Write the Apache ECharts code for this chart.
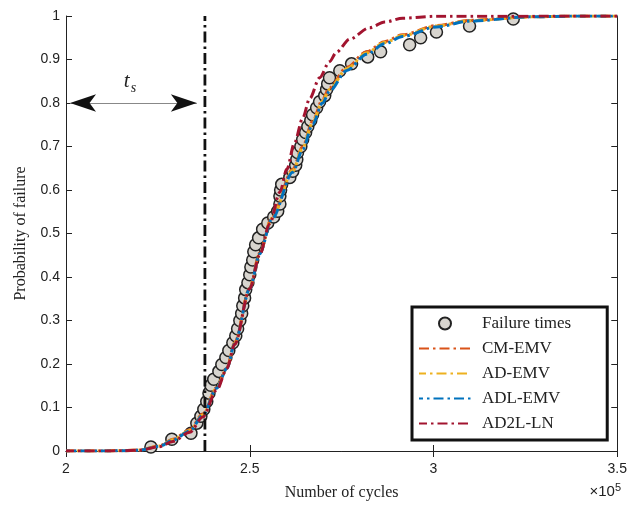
<!DOCTYPE html>
<html>
<head>
<meta charset="utf-8">
<script src="https://cdn.jsdelivr.net/npm/echarts@6/dist/echarts.min.js"></script>
<style>
  html, body { margin: 0; padding: 0; background: #fff; }
  #chart { width: 630px; height: 506px; }
</style>
</head>
<body>
<div id="chart"></div>
<script>
// failure times (cycles) and their empirical probabilities
var failureTimes = [223100, 228800, 234000, 235600, 236700, 237500, 238300, 238900, 239400, 240200,
  241600, 242400, 243500, 244300, 245400, 246200, 246700, 247300, 247800, 248100,
  248600, 248900, 249500, 250000, 250300, 250800, 251100, 251600, 252400, 253500,
  254900, 256500, 257600, 258200, 258200, 258400, 258700, 260900, 261700, 262500,
  262800, 263000, 263900, 264400, 265200, 265800, 266600, 267100, 268200, 269000,
  270400, 270900, 271200, 271700, 274500, 277700, 282100, 285600, 293500, 296500,
  300800, 309800, 321700];
var failureProb = [0.009, 0.027, 0.041, 0.064, 0.080, 0.096, 0.114, 0.133, 0.151, 0.165,
  0.183, 0.199, 0.215, 0.231, 0.249, 0.265, 0.281, 0.300, 0.316, 0.334,
  0.352, 0.371, 0.387, 0.405, 0.423, 0.439, 0.458, 0.474, 0.490, 0.510,
  0.524, 0.538, 0.551, 0.568, 0.586, 0.600, 0.613, 0.629, 0.643, 0.657,
  0.670, 0.686, 0.700, 0.716, 0.732, 0.746, 0.760, 0.773, 0.789, 0.803,
  0.817, 0.831, 0.844, 0.858, 0.874, 0.890, 0.906, 0.918, 0.934, 0.950,
  0.963, 0.977, 0.993];

// fitted CDF curves
var curveX = [200000, 209200, 215000, 220100, 225500, 229100, 233700, 237200, 241000, 243800,
  245900, 250000, 252700, 256000, 261700, 264400, 267100, 269800, 271700, 276400,
  281800, 286700, 291600, 300800, 309800, 326100, 339700, 350000];
var cmEmv = [0, 0, 0.0006, 0.0025, 0.012, 0.027, 0.049, 0.085, 0.146, 0.192,
  0.249, 0.375, 0.455, 0.537, 0.647, 0.700, 0.758, 0.808, 0.835, 0.882,
  0.918, 0.941, 0.957, 0.978, 0.990, 0.998, 1, 1];
var adEmv = [0, 0, 0.0005, 0.0022, 0.0115, 0.026, 0.047, 0.083, 0.145, 0.191,
  0.248, 0.374, 0.454, 0.535, 0.644, 0.697, 0.755, 0.804, 0.831, 0.879,
  0.915, 0.939, 0.955, 0.977, 0.989, 0.998, 1, 1];
var adlEmv = [0, 0, 0.0005, 0.002, 0.011, 0.025, 0.046, 0.082, 0.144, 0.19,
  0.247, 0.373, 0.453, 0.533, 0.641, 0.693, 0.751, 0.80, 0.827, 0.875,
  0.912, 0.936, 0.953, 0.975, 0.988, 0.998, 1, 1];
var ad2lX = [200000, 209200, 215000, 220100, 225500, 229100, 233700, 237200, 241000, 243800,
  245900, 250000, 252700, 255400, 258200, 260100, 262200, 264400, 266300, 269000,
  271700, 273600, 277200, 282600, 286700, 291600, 300800, 350000];
var ad2lLn = [0, 0, 0.0005, 0.002, 0.010, 0.022, 0.043, 0.078, 0.140, 0.190,
  0.245, 0.373, 0.451, 0.522, 0.595, 0.648, 0.709, 0.765, 0.810, 0.858,
  0.895, 0.917, 0.947, 0.973, 0.986, 0.995, 0.9995, 1];

var tsX = 237800;
var arrowFrom = [201100, 0.8];
var arrowTo = [235600, 0.8];
var tsLabelAt = [217400, 0.85];

function pairs(xs, ys) {
  return xs.map(function (x, i) { return [x, ys[i]]; });
}

var serif = '"Liberation Serif", "DejaVu Serif", serif';
var sans = '"Liberation Sans", Arial, sans-serif';
var dashDot = [10, 4, 2.5, 4];

var chart = echarts.init(document.getElementById('chart'));

function curve(name, color, data, offset) {
  return {
    name: name,
    type: 'line',
    data: data,
    symbol: 'none',
    smooth: 0.3,
    smoothMonotone: 'x',
    lineStyle: { color: color, width: 3, type: dashDot, dashOffset: offset },
    itemStyle: { color: color },
    z: 3
  };
}

// legend rows for the curves: line only, no marker
function lineItem(name) {
  return { name: name, itemStyle: { opacity: 0 } };
}

chart.setOption({
  animation: false,
  grid: { left: 66, right: 11, top: 16, bottom: 53 },
  legend: {
    orient: 'vertical',
    left: 412,
    top: 307,
    backgroundColor: '#fff',
    borderColor: '#111',
    borderWidth: 3,
    borderRadius: 0,
    padding: [8, 36, 8, 6],
    itemWidth: 52,
    itemHeight: 12,
    itemGap: 8,
    textStyle: { fontFamily: serif, fontSize: 17, color: '#222', lineHeight: 17, padding: [0, 0, 0, 6] },
    data: ['Failure times', lineItem('CM-EMV'), lineItem('AD-EMV'), lineItem('ADL-EMV'), lineItem('AD2L-LN')]
  },
  xAxis: [{
    type: 'value',
    min: 200000, max: 350000, interval: 50000,
    name: 'Number of cycles',
    nameLocation: 'middle',
    nameGap: 34,
    nameTextStyle: { fontFamily: serif, fontSize: 16, color: '#222' },
    axisLine: { lineStyle: { color: '#222', width: 1 } },
    axisTick: { inside: true, length: 6, lineStyle: { color: '#222' } },
    axisLabel: {
      fontFamily: sans, fontSize: 14, color: '#222', margin: 11,
      formatter: function (v) { return String(v / 100000); }
    },
    splitLine: { show: false }
  }, {
    type: 'value',
    position: 'top',
    min: 200000, max: 350000, interval: 50000,
    axisLine: { lineStyle: { color: '#222', width: 1 } },
    axisTick: { inside: true, length: 6, lineStyle: { color: '#222' } },
    axisLabel: { show: false },
    splitLine: { show: false }
  }],
  yAxis: [{
    type: 'value',
    min: 0, max: 1, interval: 0.1,
    name: 'Probability of failure',
    nameLocation: 'middle',
    nameGap: 37,
    nameTextStyle: { fontFamily: serif, fontSize: 16, color: '#222' },
    axisLine: { show: true, lineStyle: { color: '#222', width: 1 } },
    axisTick: { show: true, inside: true, length: 6, lineStyle: { color: '#222' } },
    axisLabel: { fontFamily: sans, fontSize: 14, color: '#222', margin: 6 },
    splitLine: { show: false }
  }, {
    type: 'value',
    position: 'right',
    min: 0, max: 1, interval: 0.1,
    axisLine: { show: true, lineStyle: { color: '#222', width: 1 } },
    axisTick: { show: true, inside: true, length: 6, lineStyle: { color: '#222' } },
    axisLabel: { show: false },
    splitLine: { show: false }
  }],
  graphic: [{
    type: 'text',
    right: 9,
    top: 482,
    style: {
      text: '×10{sup|5}',
      font: '15px "Liberation Sans", Arial, sans-serif',
      fill: '#222',
      rich: { sup: { fontSize: 11, fontFamily: sans, verticalAlign: 'top', padding: [0, 0, 8, 0] } }
    }
  }],
  series: [{
    name: 'Failure times',
    type: 'scatter',
    data: pairs(failureTimes, failureProb),
    symbol: 'circle',
    symbolSize: 12,
    itemStyle: { color: '#d8d5cf', borderColor: '#222', borderWidth: 1.5, opacity: 1 },
    z: 2
  },
  curve('CM-EMV', '#D95319', pairs(curveX, cmEmv), 0),
  curve('AD-EMV', '#EDB120', pairs(curveX, adEmv), 3),
  curve('ADL-EMV', '#0072BD', pairs(curveX, adlEmv), 6),
  curve('AD2L-LN', '#A2142F', pairs(ad2lX, ad2lLn), 2),
  {
    name: 'ts',
    type: 'line',
    data: [[tsX, 0], [tsX, 1]],
    symbol: 'none',
    lineStyle: { color: '#111', width: 2.8, type: [11, 4, 2.5, 4] },
    z: 4,
    markLine: {
      silent: true,
      animation: false,
      label: { show: false },
      data: [
        [{ coord: arrowFrom, symbol: 'none', lineStyle: { color: '#888', width: 1.2, type: 'solid' } },
         { coord: arrowTo, symbol: 'none' }],
        [{ coord: arrowFrom, symbol: 'arrow', symbolSize: [13, 26], lineStyle: { color: '#111', width: 0, type: 'solid' } },
         { coord: arrowTo, symbol: 'arrow', symbolSize: [13, 26] }]
      ]
    },
    markPoint: {
      silent: true,
      symbol: 'circle',
      symbolSize: 0,
      data: [{ coord: tsLabelAt }],
      label: {
        show: true,
        position: 'inside',
        formatter: '{t|t}{s|s}',
        rich: {
          t: { fontFamily: serif, fontStyle: 'italic', fontSize: 21, color: '#222', verticalAlign: 'bottom' },
          s: { fontFamily: serif, fontStyle: 'italic', fontSize: 14, color: '#222', verticalAlign: 'bottom', padding: [0, 0, -4, 1] }
        }
      }
    }
  }]
});
</script>
</body>
</html>
